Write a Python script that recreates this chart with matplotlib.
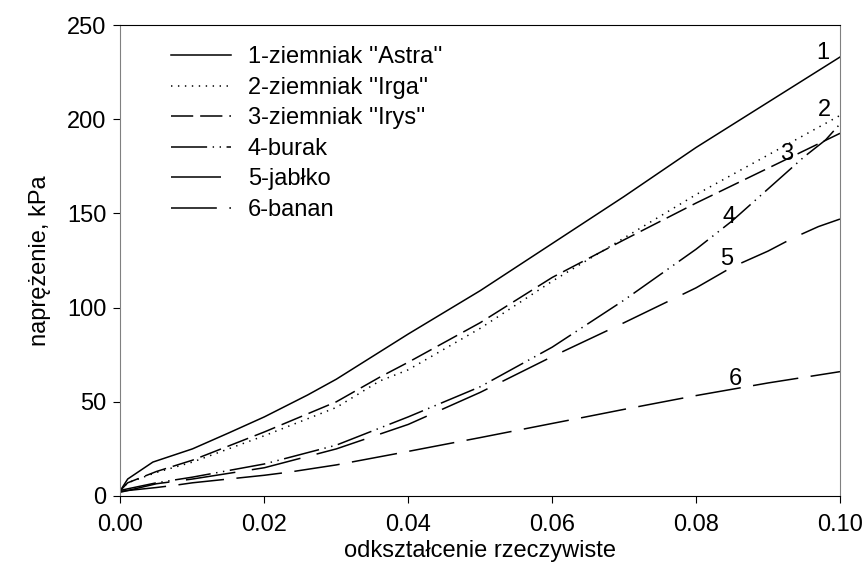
import matplotlib
matplotlib.use("Agg")
import matplotlib.pyplot as plt
from matplotlib.lines import Line2D

plt.rcParams['font.family'] = ['Liberation Sans', 'DejaVu Sans']
plt.rcParams['lines.scale_dashes'] = False

# odkształcenie rzeczywiste (x) i naprężenie, kPa (y)
x1 = [0.0, 0.001, 0.0045, 0.01, 0.015, 0.02, 0.026, 0.03, 0.036, 0.04, 0.05, 0.06, 0.07, 0.08, 0.09, 0.1]
y1 = [3, 9, 18, 25, 33.4, 42, 53.6, 62, 76.4, 86, 109, 134, 159, 185, 209, 233]

x2 = [0.0, 0.001, 0.005, 0.01, 0.02, 0.03, 0.036, 0.04, 0.05, 0.06, 0.07, 0.08, 0.09, 0.1]
y2 = [3, 7, 12.5, 18, 32, 47, 61, 67, 89, 114, 137, 160, 181, 202]

x3 = [0.0, 0.001, 0.005, 0.01, 0.02, 0.03, 0.036, 0.04, 0.05, 0.06, 0.07, 0.08, 0.09, 0.1]
y3 = [3, 7, 13, 19, 34, 50, 63, 71, 92, 116, 136, 155.5, 174, 192.5]

x4 = [0.0, 0.005, 0.01, 0.02, 0.03, 0.04, 0.05, 0.06, 0.07, 0.08, 0.085, 0.09, 0.095, 0.098, 0.1]
y4 = [3, 7, 10, 17, 27, 42, 58, 79, 104, 131, 146, 163, 180, 189, 197.5]

x5 = [0.0, 0.005, 0.01, 0.02, 0.03, 0.04, 0.05, 0.06, 0.07, 0.08, 0.085, 0.09, 0.0935, 0.097, 0.1]
y5 = [2, 6.5, 9, 15, 25, 38, 55, 74, 92, 110.5, 121.5, 130, 137, 143, 147]

x6 = [0.0, 0.005, 0.0078, 0.01, 0.02, 0.0235, 0.03, 0.0388, 0.05, 0.06, 0.0639, 0.07, 0.08, 0.09, 0.1]
y6 = [2.5, 4.5, 5.8, 7, 11, 12.7, 16.5, 22.8, 31, 38.5, 41.4, 46, 53.3, 60, 66]

labels = ["1-ziemniak ''Astra''", "2-ziemniak ''Irga''", "3-ziemniak ''Irys''", '4-burak', '5-jabłko', '6-banan']
styles = ['-', (0, (1, 4)), (0, (16, 5)), (0, (26, 4, 1, 4, 1, 4)), (0, (36, 12)), (0, (33, 9))]
curve_nums = ['1', '2', '3', '4', '5', '6']
num_x = [0.0976, 0.0978, 0.0926, 0.0846, 0.0843, 0.0855]
num_y = [235, 205, 181.5, 148, 126, 62]

xs = [x1, x2, x3, x4, x5, x6]
ys = [y1, y2, y3, y4, y5, y6]

fig = plt.figure(figsize=(8.65, 5.66), dpi=100)
ax = fig.add_axes([0.1393, 0.1237, 0.8318, 0.8321])

for x, y, ls in zip(xs, ys, styles):
    ax.plot(x, y, color='black', lw=1.1, linestyle=ls)

for t, tx, ty in zip(curve_nums, num_x, num_y):
    ax.text(tx, ty, t, fontsize=17, ha='center', va='center')

ax.set_xlim(0, 0.1)
ax.set_ylim(0, 250)
ax.set_xticks([0, 0.02, 0.04, 0.06, 0.08, 0.1])
ax.set_xticklabels(['0.00', '0.02', '0.04', '0.06', '0.08', '0.10'])
ax.set_yticks([0, 50, 100, 150, 200, 250])
ax.tick_params(direction='out', length=5, width=0.8, labelsize=17, top=False, right=False)
ax.tick_params(axis='x', pad=8)
ax.tick_params(axis='y', pad=5)
ax.spines['left'].set_color('#808080')
ax.spines['right'].set_color('#808080')

ax.set_xlabel('odkształcenie rzeczywiste', fontsize=17, labelpad=3)
ax.set_ylabel('naprężenie, kPa', fontsize=17, labelpad=12)

handles = [Line2D([], [], color='black', lw=1.1, linestyle=ls) for ls in styles]
ax.legend(handles, labels, loc='upper left', bbox_to_anchor=(0.04, 1.0), frameon=False,
          fontsize=17, handlelength=2.55, handletextpad=0.72, labelspacing=0.36)

fig.savefig('out.png', dpi=100)
